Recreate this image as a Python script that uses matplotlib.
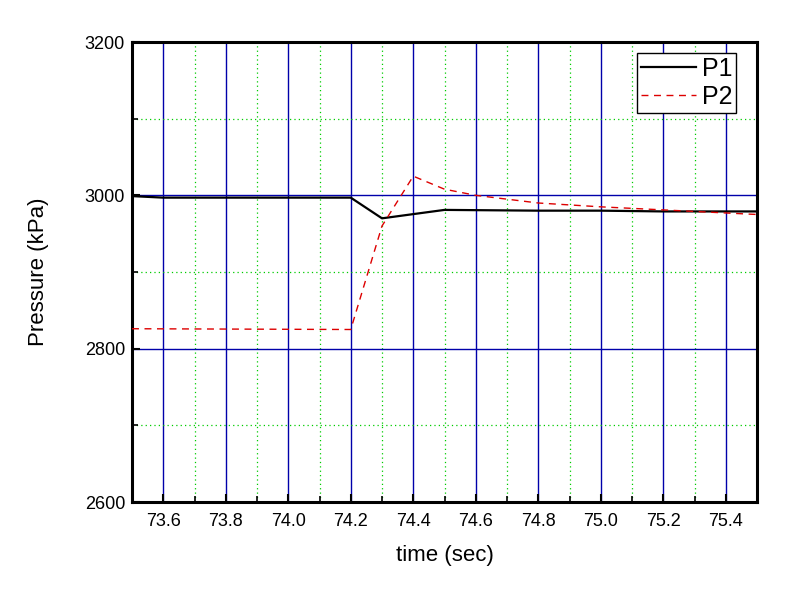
import matplotlib
matplotlib.use("Agg")
import matplotlib.pyplot as plt
from matplotlib.ticker import MultipleLocator

plt.rcParams['font.family'] = ['Liberation Sans', 'DejaVu Sans']

t1 = [73.5, 73.6, 74.2, 74.3, 74.5, 74.8, 75.0, 75.2, 75.5]
p1 = [2999, 2997, 2997, 2970, 2981, 2980, 2980, 2979, 2979]

t2 = [73.5, 74.2, 74.3, 74.4, 74.5, 74.6, 74.8, 75.0, 75.2, 75.5]
p2 = [2826, 2825, 2960, 3025, 3008, 3000, 2990, 2985, 2981, 2975]

xticks = [73.6, 73.8, 74.0, 74.2, 74.4, 74.6, 74.8, 75.0, 75.2, 75.4]
yticks = [2600, 2800, 3000, 3200]

fig = plt.figure(figsize=(7.88, 5.92), dpi=100)
ax = fig.add_axes([132/788, 1-502/592, (757-132)/788, (502-42)/592])

ax.plot(t1, p1, color='black', lw=1.6, label='P1', zorder=3)
ax.plot(t2, p2, color='#dd0000', lw=1.0, ls=(0, (5, 4)), label='P2', zorder=3)

ax.set_xlim(73.5, 75.5)
ax.set_ylim(2600, 3200)
ax.set_xticks(xticks)
ax.set_xticklabels([f"{v:.1f}" for v in xticks])
ax.set_yticks(yticks)
ax.set_yticklabels([str(v) for v in yticks])
ax.xaxis.set_minor_locator(MultipleLocator(0.1))
ax.yaxis.set_minor_locator(MultipleLocator(100))

ax.grid(which='major', color='#0000aa', lw=1.0, ls='-')
ax.grid(which='minor', color='#00cc00', lw=0.9, ls=(0, (1, 2.5)))
ax.set_axisbelow(True)

ax.tick_params(which='major', direction='in', length=6, width=1.5, labelsize=13)
ax.tick_params(which='minor', direction='in', length=4, width=1.2)
ax.tick_params(axis='x', pad=8)
ax.tick_params(axis='y', pad=5)
for s in ax.spines.values():
    s.set_linewidth(2.2)

ax.set_xlabel('time (sec)', fontsize=16, labelpad=11)
ax.set_ylabel('Pressure (kPa)', fontsize=16, labelpad=26)

leg = ax.legend(loc='upper right', fontsize=18, frameon=True, fancybox=False,
                edgecolor='black', framealpha=1, borderpad=0.15, handlelength=2.2,
                handletextpad=0.25, labelspacing=0.15, borderaxespad=0.45,
                bbox_to_anchor=(0.985, 1.0))
leg.get_frame().set_linewidth(1.0)

fig.savefig('out.png', dpi=100)
